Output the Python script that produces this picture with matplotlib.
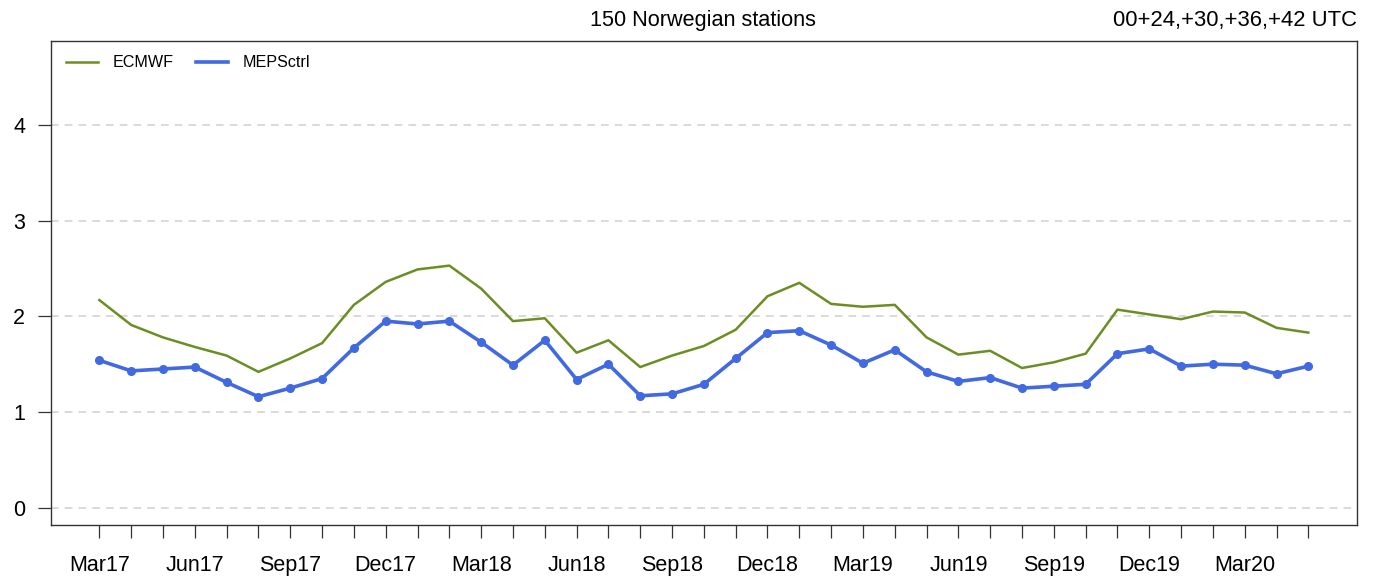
import numpy as np
import matplotlib
matplotlib.use('Agg')
import matplotlib.pyplot as plt
from matplotlib.lines import Line2D

plt.rcParams['font.family'] = ['Liberation Sans', 'DejaVu Sans']

# months Mar17 .. May20
months = ['Mar17', 'Apr17', 'May17', 'Jun17', 'Jul17', 'Aug17', 'Sep17', 'Oct17', 'Nov17',
          'Dec17', 'Jan18', 'Feb18', 'Mar18', 'Apr18', 'May18', 'Jun18', 'Jul18', 'Aug18',
          'Sep18', 'Oct18', 'Nov18', 'Dec18', 'Jan19', 'Feb19', 'Mar19', 'Apr19', 'May19',
          'Jun19', 'Jul19', 'Aug19', 'Sep19', 'Oct19', 'Nov19', 'Dec19', 'Jan20', 'Feb20',
          'Mar20', 'Apr20', 'May20']

ecmwf = [2.17, 1.91, 1.78, 1.68, 1.59, 1.42, 1.56, 1.72, 2.12, 2.36, 2.49, 2.53, 2.29,
         1.95, 1.98, 1.62, 1.75, 1.47, 1.59, 1.69, 1.86, 2.21, 2.35, 2.13, 2.10, 2.12,
         1.78, 1.60, 1.64, 1.46, 1.52, 1.61, 2.07, 2.02, 1.97, 2.05, 2.04, 1.88, 1.83]

mepsctrl = [1.54, 1.43, 1.45, 1.47, 1.31, 1.16, 1.25, 1.35, 1.67, 1.95, 1.92, 1.95, 1.73,
            1.49, 1.75, 1.34, 1.50, 1.17, 1.19, 1.29, 1.56, 1.83, 1.85, 1.70, 1.51, 1.65,
            1.42, 1.32, 1.36, 1.25, 1.27, 1.29, 1.61, 1.66, 1.48, 1.50, 1.49, 1.40, 1.48]

x = np.arange(len(months))

fig = plt.figure(figsize=(13.75, 5.83), dpi=100)
ax = fig.add_axes([0.0371, 0.0995, 0.9496, 0.8307])

ax.plot(x, ecmwf, color='#6B8E23', lw=1.8, zorder=3)
ax.plot(x, mepsctrl, color='#4169E1', lw=2.6, marker='o', markersize=5.5, zorder=4)

ax.set_xlim(-1.52, 39.52)
ax.set_ylim(-0.18, 4.88)

ax.set_yticks([0, 1, 2, 3, 4])
ax.set_xticks(x, minor=True)
ax.set_xticks(x[::3])
ax.set_xticklabels(months[::3])
ax.tick_params(axis='x', which='both', length=9.5, width=0.9, color='#333333',
               labelsize=15.5, pad=12)
ax.tick_params(axis='y', length=9.5, width=0.9, color='#333333', labelsize=15.5, pad=9)

for y in [0, 1, 2, 3, 4]:
    ax.axhline(y, color='#d0d0d0', lw=1.1, ls=(0, (5, 4)), zorder=1)

for s in ax.spines.values():
    s.set_color('#333333')
    s.set_linewidth(1.0)

handles = [Line2D([], [], color='#6B8E23', lw=1.8),
           Line2D([], [], color='#4169E1', lw=2.6)]
ax.legend(handles, ['ECMWF', 'MEPSctrl'], loc='upper left', ncol=2, frameon=False,
          fontsize=11.6, handlelength=2.0, handletextpad=0.9, columnspacing=1.4,
          bbox_to_anchor=(0.0, 1.0), borderaxespad=0.5)

fig.text(0.5115, 0.965, '150 Norwegian stations', ha='center', va='center', fontsize=15.6)
fig.text(0.9867, 0.965, '00+24,+30,+36,+42 UTC', ha='right', va='center', fontsize=15.8)

plt.savefig('out.png', dpi=100)
